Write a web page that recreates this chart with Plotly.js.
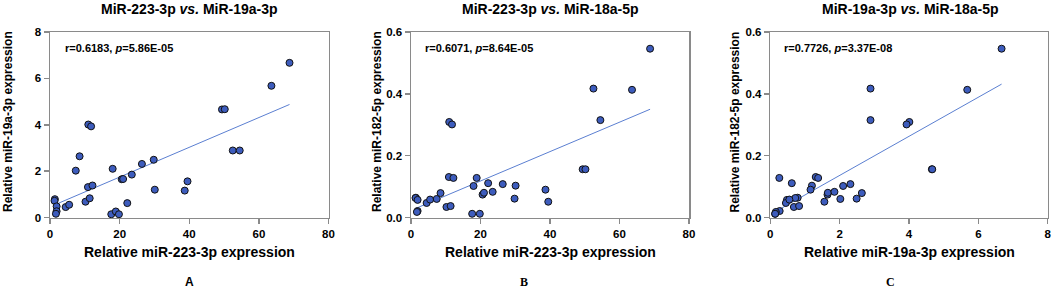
<!DOCTYPE html>
<html>
<head>
<meta charset="utf-8">
<script src="https://cdn.plot.ly/plotly-3.0.1.min.js"></script>
<style>html,body{margin:0;padding:0;background:#fff;}#chart{width:1052px;height:288px;}</style>
</head>
<body>
<div id="chart"></div>
<script>
// Per-sample relative expression values
const mir223 = [1.4, 1.3, 1.9, 1.9, 1.7, 4.5, 5.5, 7.4, 8.5, 11.0, 11.8, 10.2, 11.4, 10.9, 12.2, 18.0, 17.6, 18.9, 19.8, 20.6, 21.0, 22.2, 23.5, 26.4, 29.8, 30.1, 38.7, 39.5, 49.4, 50.2, 52.5, 54.5, 63.6, 68.8];
const mir19a = [0.79, 0.72, 0.48, 0.27, 0.16, 0.45, 0.55, 2.02, 2.64, 4.01, 3.93, 0.68, 0.83, 1.31, 1.38, 2.10, 0.14, 0.26, 0.14, 1.65, 1.66, 0.62, 1.85, 2.31, 2.49, 1.20, 1.16, 1.56, 4.66, 4.67, 2.89, 2.89, 5.68, 6.67];
const mir18a = [0.064, 0.063, 0.057, 0.021, 0.018, 0.047, 0.058, 0.060, 0.079, 0.309, 0.301, 0.034, 0.037, 0.131, 0.128, 0.102, 0.012, 0.128, 0.012, 0.074, 0.080, 0.111, 0.083, 0.108, 0.061, 0.103, 0.090, 0.051, 0.156, 0.156, 0.417, 0.315, 0.413, 0.546];

const panelTitles = ["MiR-223-3p <i>vs.</i> MiR-19a-3p", "MiR-223-3p <i>vs.</i> MiR-18a-5p", "MiR-19a-3p <i>vs.</i> MiR-18a-5p"];
const statLabels = ["r=0.6183, <i>p</i>=5.86E-05", "r=0.6071, <i>p</i>=8.64E-05", "r=0.7726, <i>p</i>=3.37E-08"];
const xTitles = ["Relative miR-223-3p expression", "Relative miR-223-3p expression", "Relative miR-19a-3p expression"];
const yTitles = ["Relative miR-19a-3p expression", "Relative miR-182-5p expression", "Relative miR-182-5p expression"];
const panelLetters = ["A", "B", "C"];
const xTicks = [[0, 20, 40, 60, 80], [0, 20, 40, 60, 80], [0, 2, 4, 6, 8]];
const yTicks = [[0, 2, 4, 6, 8], [0, 0.2, 0.4, 0.6], [0, 0.2, 0.4, 0.6]];

const pairs = [[mir223, mir19a], [mir223, mir18a], [mir19a, mir18a]];

// ---- layout geometry (px) ----
const W = 1052, H = 288;
const plotLeft = [50, 411, 770.3], plotRight = [328.5, 689, 1047.7];
const plotTop = 32, plotBottom = 217.5;
const titleX = [189, 550, 910];
const statX = [62.7, 423.3, 781.7];
const yTitleX = [8, 377, 734.5];
const letterX = [189, 523.5, 890];
const letterFont = ["Arial, 'Liberation Sans', sans-serif", "'Times New Roman', 'Liberation Serif', serif", "'Times New Roman', 'Liberation Serif', serif"];

const SANS = "Arial, 'Liberation Sans', sans-serif";
const px = v => v / W, py = v => 1 - v / H;

function fit(x, y) {
  const n = x.length;
  const mx = x.reduce((a, b) => a + b, 0) / n, my = y.reduce((a, b) => a + b, 0) / n;
  let sxy = 0, sxx = 0;
  for (let i = 0; i < n; i++) { sxy += (x[i] - mx) * (y[i] - my); sxx += (x[i] - mx) ** 2; }
  const b = sxy / sxx, a = my - b * mx;
  const x0 = Math.min(...x), x1 = Math.max(...x);
  return { x: [x0, x1], y: [a + b * x0, a + b * x1] };
}

const data = [];
const layout = {
  width: W, height: H,
  margin: { l: 0, r: 0, t: 0, b: 0 },
  paper_bgcolor: "#ffffff", plot_bgcolor: "#ffffff",
  showlegend: false, hovermode: false,
  font: { family: SANS, color: "#000" },
  annotations: []
};

for (let k = 0; k < 3; k++) {
  const sfx = k === 0 ? "" : String(k + 1);
  const [xs, ys] = pairs[k];
  const f = fit(xs, ys);
  data.push({
    x: f.x, y: f.y, mode: "lines", type: "scatter",
    xaxis: "x" + sfx, yaxis: "y" + sfx,
    line: { color: "#5b7fd1", width: 1 }, cliponaxis: false
  });
  data.push({
    x: xs, y: ys, mode: "markers", type: "scatter",
    xaxis: "x" + sfx, yaxis: "y" + sfx,
    marker: { color: "#3d5cbd", size: 7, line: { color: "#111", width: 1 } },
    cliponaxis: false
  });
  const yr = yTicks[k];
  const axCommon = {
    showgrid: false, zeroline: false, showline: true, mirror: true,
    linecolor: "#8a8a8a", linewidth: 1.5,
    ticks: "outside", ticklen: 5, tickwidth: 1.5, tickcolor: "#8a8a8a",
    tickfont: { family: SANS, size: 11.5, color: "#000", weight: "bold" }
  };
  layout["xaxis" + sfx] = Object.assign({}, axCommon, {
    domain: [px(plotLeft[k]), px(plotRight[k])],
    range: [xTicks[k][0], xTicks[k][xTicks[k].length - 1]],
    tickvals: xTicks[k], anchor: "y" + sfx
  });
  layout["yaxis" + sfx] = Object.assign({}, axCommon, {
    domain: [py(plotBottom), py(plotTop)],
    range: [yr[0], yr[yr.length - 1]],
    tickvals: yr, tickformat: k === 0 ? "d" : ".1f", anchor: "x" + sfx
  });
  const A = layout.annotations;
  A.push({ xref: "paper", yref: "paper", x: px(titleX[k]), y: py(9), xanchor: "center", yanchor: "middle",
    text: "<b>" + panelTitles[k] + "</b>", showarrow: false, font: { family: SANS, size: 14, color: "#000" } });
  A.push({ xref: "paper", yref: "paper", x: px(statX[k]), y: py(48), xanchor: "left", yanchor: "middle",
    text: "<b>" + statLabels[k] + "</b>", showarrow: false, font: { family: SANS, size: 11, color: "#000" } });
  A.push({ xref: "paper", yref: "paper", x: px((plotLeft[k] + plotRight[k]) / 2), y: py(252), xanchor: "center", yanchor: "middle",
    text: "<b>" + xTitles[k] + "</b>", showarrow: false, font: { family: SANS, size: 14, color: "#000" } });
  A.push({ xref: "paper", yref: "paper", x: px(yTitleX[k]), y: py(122), xanchor: "center", yanchor: "middle",
    text: "<b>" + yTitles[k] + "</b>", textangle: -90, showarrow: false, font: { family: SANS, size: 12, color: "#000" } });
  A.push({ xref: "paper", yref: "paper", x: px(letterX[k]), y: py(282), xanchor: "center", yanchor: "middle",
    text: "<b>" + panelLetters[k] + "</b>", showarrow: false, font: { family: letterFont[k], size: 12, color: "#000" } });
}

Plotly.newPlot("chart", data, layout, { staticPlot: true, displayModeBar: false });
</script>
</body>
</html>
